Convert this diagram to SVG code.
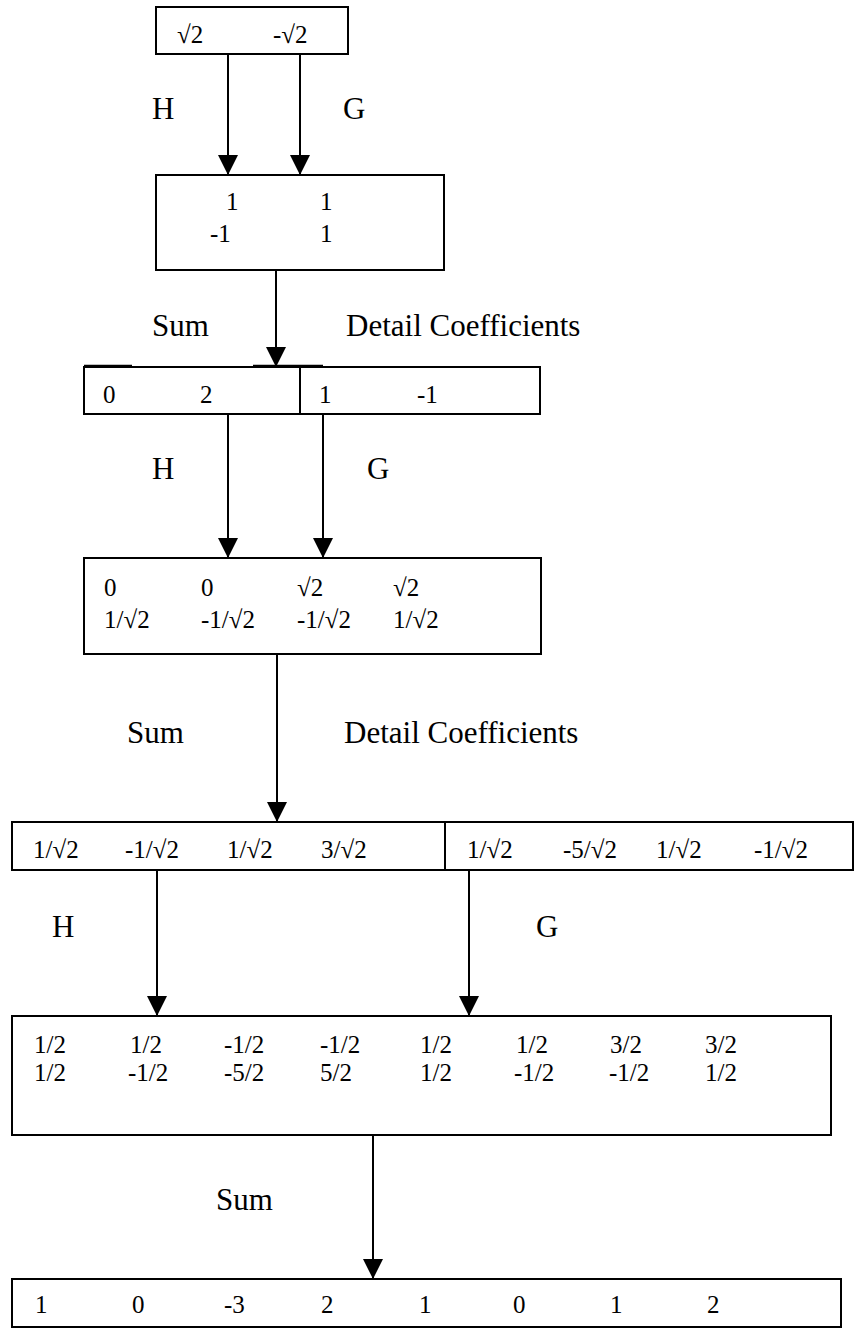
<svg xmlns="http://www.w3.org/2000/svg" width="854" height="1332" viewBox="0 0 854 1332">
<style>
.box{fill:#fff;stroke:#000;stroke-width:2}
.ln{stroke:#000;stroke-width:2;fill:none}
.num{font-family:"Liberation Serif","Times New Roman",serif;font-size:25px;fill:#000}
.lbl{font-family:"Liberation Serif","Times New Roman",serif;font-size:31px;fill:#000}
</style>
<defs>
<marker id="ah" markerUnits="userSpaceOnUse" markerWidth="20" markerHeight="20" refX="20" refY="10" orient="auto" viewBox="0 0 20 20">
<path d="M0,0 L20,10 L0,20 z" fill="#000"/>
</marker>
</defs>
<rect width="854" height="1332" fill="#fff"/>
<g id="connectors">
<line class="ln" x1="228" y1="54" x2="228" y2="175" marker-end="url(#ah)"/>
<line class="ln" x1="300" y1="54" x2="300" y2="175" marker-end="url(#ah)"/>
<line class="ln" x1="276" y1="270" x2="276" y2="367" marker-end="url(#ah)"/>
<line class="ln" x1="228" y1="414" x2="228" y2="558" marker-end="url(#ah)"/>
<line class="ln" x1="323" y1="414" x2="323" y2="558" marker-end="url(#ah)"/>
<line class="ln" x1="277" y1="654" x2="277" y2="822" marker-end="url(#ah)"/>
<line class="ln" x1="157" y1="870" x2="157" y2="1016" marker-end="url(#ah)"/>
<line class="ln" x1="469" y1="870" x2="469" y2="1016" marker-end="url(#ah)"/>
<line class="ln" x1="373" y1="1135" x2="373" y2="1279" marker-end="url(#ah)"/>
</g>
<g id="labels">
<text class="lbl" x="152" y="119">H</text>
<text class="lbl" x="343" y="119">G</text>
<text class="lbl" x="152" y="336">Sum</text>
<text class="lbl" x="346" y="336">Detail Coefficients</text>
<text class="lbl" x="152" y="479">H</text>
<text class="lbl" x="367" y="479">G</text>
<text class="lbl" x="127" y="743">Sum</text>
<text class="lbl" x="344" y="743">Detail Coefficients</text>
<text class="lbl" x="52" y="937">H</text>
<text class="lbl" x="536" y="937">G</text>
<text class="lbl" x="216" y="1210">Sum</text>
</g>
<g id="node1">
<rect class="box" x="156" y="7" width="192" height="47"/>
<text class="num" x="177" y="43">√2</text>
<text class="num" x="273" y="43">-√2</text>
</g>
<g id="node2">
<rect class="box" x="156" y="175" width="288" height="95"/>
<text class="num" x="226" y="210">1</text>
<text class="num" x="320" y="210">1</text>
<text class="num" x="210" y="242">-1</text>
<text class="num" x="320" y="242">1</text>
</g>
<g id="node3">
<rect class="box" x="84" y="367" width="456" height="47"/>
<line class="ln" x1="300" y1="367" x2="300" y2="414"/>
<line x1="84" y1="365.5" x2="132" y2="365.5" stroke="#000" stroke-width="1.5"/>
<line x1="253" y1="365.5" x2="323" y2="365.5" stroke="#000" stroke-width="1.5"/>
<text class="num" x="103" y="403">0</text>
<text class="num" x="200" y="403">2</text>
<text class="num" x="319" y="403">1</text>
<text class="num" x="417" y="403">-1</text>
</g>
<g id="node4">
<rect class="box" x="84" y="558" width="457" height="96"/>
<text class="num" x="104" y="596">0</text>
<text class="num" x="201" y="596">0</text>
<text class="num" x="297" y="596">√2</text>
<text class="num" x="393" y="596">√2</text>
<text class="num" x="104" y="628">1/√2</text>
<text class="num" x="201" y="628">-1/√2</text>
<text class="num" x="297" y="628">-1/√2</text>
<text class="num" x="393" y="628">1/√2</text>
</g>
<g id="node5">
<rect class="box" x="12" y="822" width="841" height="48"/>
<line class="ln" x1="445" y1="822" x2="445" y2="870"/>
<text class="num" x="33" y="858">1/√2</text>
<text class="num" x="125" y="858">-1/√2</text>
<text class="num" x="227" y="858">1/√2</text>
<text class="num" x="321" y="858">3/√2</text>
<text class="num" x="467" y="858">1/√2</text>
<text class="num" x="563" y="858">-5/√2</text>
<text class="num" x="656" y="858">1/√2</text>
<text class="num" x="754" y="858">-1/√2</text>
</g>
<g id="node6">
<rect class="box" x="12" y="1016" width="819" height="119"/>
<text class="num" x="34" y="1053">1/2</text>
<text class="num" x="130" y="1053">1/2</text>
<text class="num" x="224" y="1053">-1/2</text>
<text class="num" x="320" y="1053">-1/2</text>
<text class="num" x="420" y="1053">1/2</text>
<text class="num" x="516" y="1053">1/2</text>
<text class="num" x="610" y="1053">3/2</text>
<text class="num" x="705" y="1053">3/2</text>
<text class="num" x="34" y="1081">1/2</text>
<text class="num" x="128" y="1081">-1/2</text>
<text class="num" x="224" y="1081">-5/2</text>
<text class="num" x="320" y="1081">5/2</text>
<text class="num" x="420" y="1081">1/2</text>
<text class="num" x="514" y="1081">-1/2</text>
<text class="num" x="609" y="1081">-1/2</text>
<text class="num" x="705" y="1081">1/2</text>
</g>
<g id="node7">
<rect class="box" x="12" y="1279" width="829" height="48"/>
<text class="num" x="35" y="1313">1</text>
<text class="num" x="132" y="1313">0</text>
<text class="num" x="224" y="1313">-3</text>
<text class="num" x="321" y="1313">2</text>
<text class="num" x="419" y="1313">1</text>
<text class="num" x="513" y="1313">0</text>
<text class="num" x="610" y="1313">1</text>
<text class="num" x="707" y="1313">2</text>
</g>
</svg>
